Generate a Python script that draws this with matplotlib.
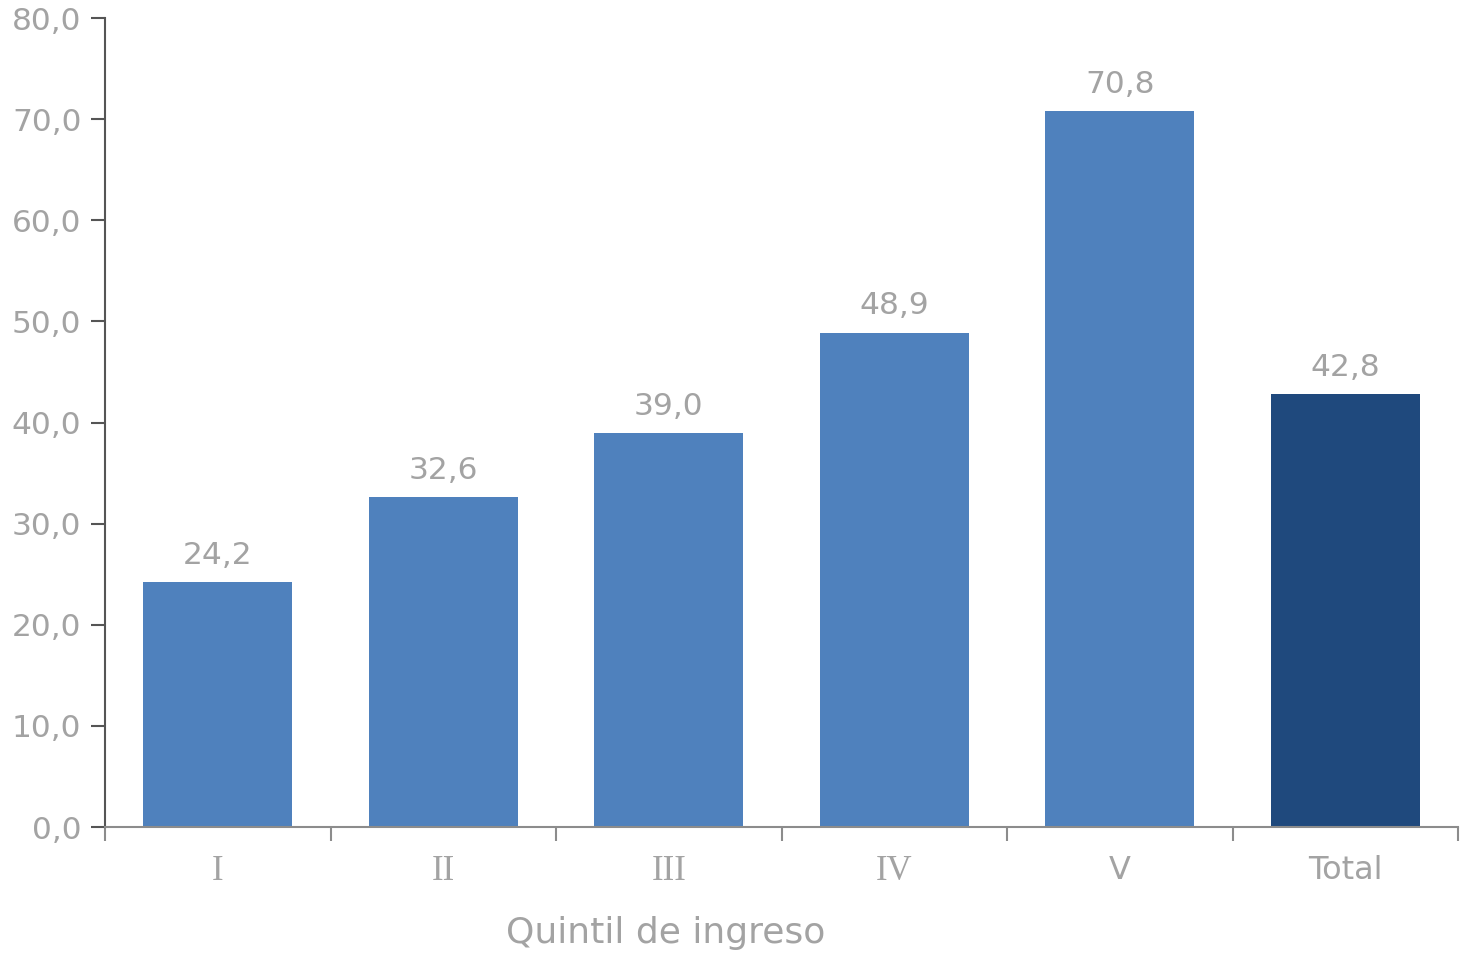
import numpy as np
import matplotlib.pyplot as plt

categories = ["I", "II", "III", "IV", "V", "Total"]
values = [24.2, 32.6, 39.0, 48.9, 70.8, 42.8]
bar_colors = ["#4F81BD"] * 5 + ["#1F497D"]
y_ticks = [0, 10, 20, 30, 40, 50, 60, 70, 80]

text_gray = "#A3A3A3"
axis_gray = "#8C8C8C"

fig = plt.figure(figsize=(14.61, 9.55), dpi=100)
ax = fig.add_axes([0.0719, 0.134, 0.9261, 0.847])

x = np.arange(len(categories))
ax.bar(x, values, width=0.66, color=bar_colors, zorder=2)

for xi, v in zip(x, values):
    ax.text(xi, v + 1.2, f"{v:.1f}".replace(".", ","), ha="center", va="bottom",
            fontsize=22.5, color=text_gray)

ax.set_xlim(-0.5, len(categories) - 0.5)
ax.set_ylim(0, 80)
ax.set_yticks(y_ticks)
ax.set_yticklabels([f"{t:.1f}".replace(".", ",") for t in y_ticks])

# category labels between boundary ticks
ax.set_xticks(x)
ax.set_xticklabels(categories)
ax.tick_params(axis="x", which="major", length=0, pad=20, labelsize=23, labelcolor=text_gray)
ax.set_xticks(np.arange(-0.5, len(categories)), minor=True)
ax.tick_params(axis="x", which="minor", length=10, width=1.5, color=axis_gray, direction="out")
for lbl in ax.get_xticklabels():
    if lbl.get_text() in ("I", "II", "III", "IV"):
        lbl.set_family("Liberation Serif")
        lbl.set_fontsize(25)

ax.tick_params(axis="y", length=10, width=1.5, color="#555555", labelsize=22.5,
               labelcolor=text_gray, pad=7)

for s in ("top", "right"):
    ax.spines[s].set_visible(False)
ax.spines["left"].set_color("#555555")
ax.spines["left"].set_linewidth(1.5)
ax.spines["bottom"].set_color(axis_gray)
ax.spines["bottom"].set_linewidth(1.5)

fig.text(666 / 1461, 1 - 933 / 955, "Quintil de ingreso", ha="center", va="center",
         fontsize=26, color=text_gray)

fig.savefig("out.png", dpi=100)
